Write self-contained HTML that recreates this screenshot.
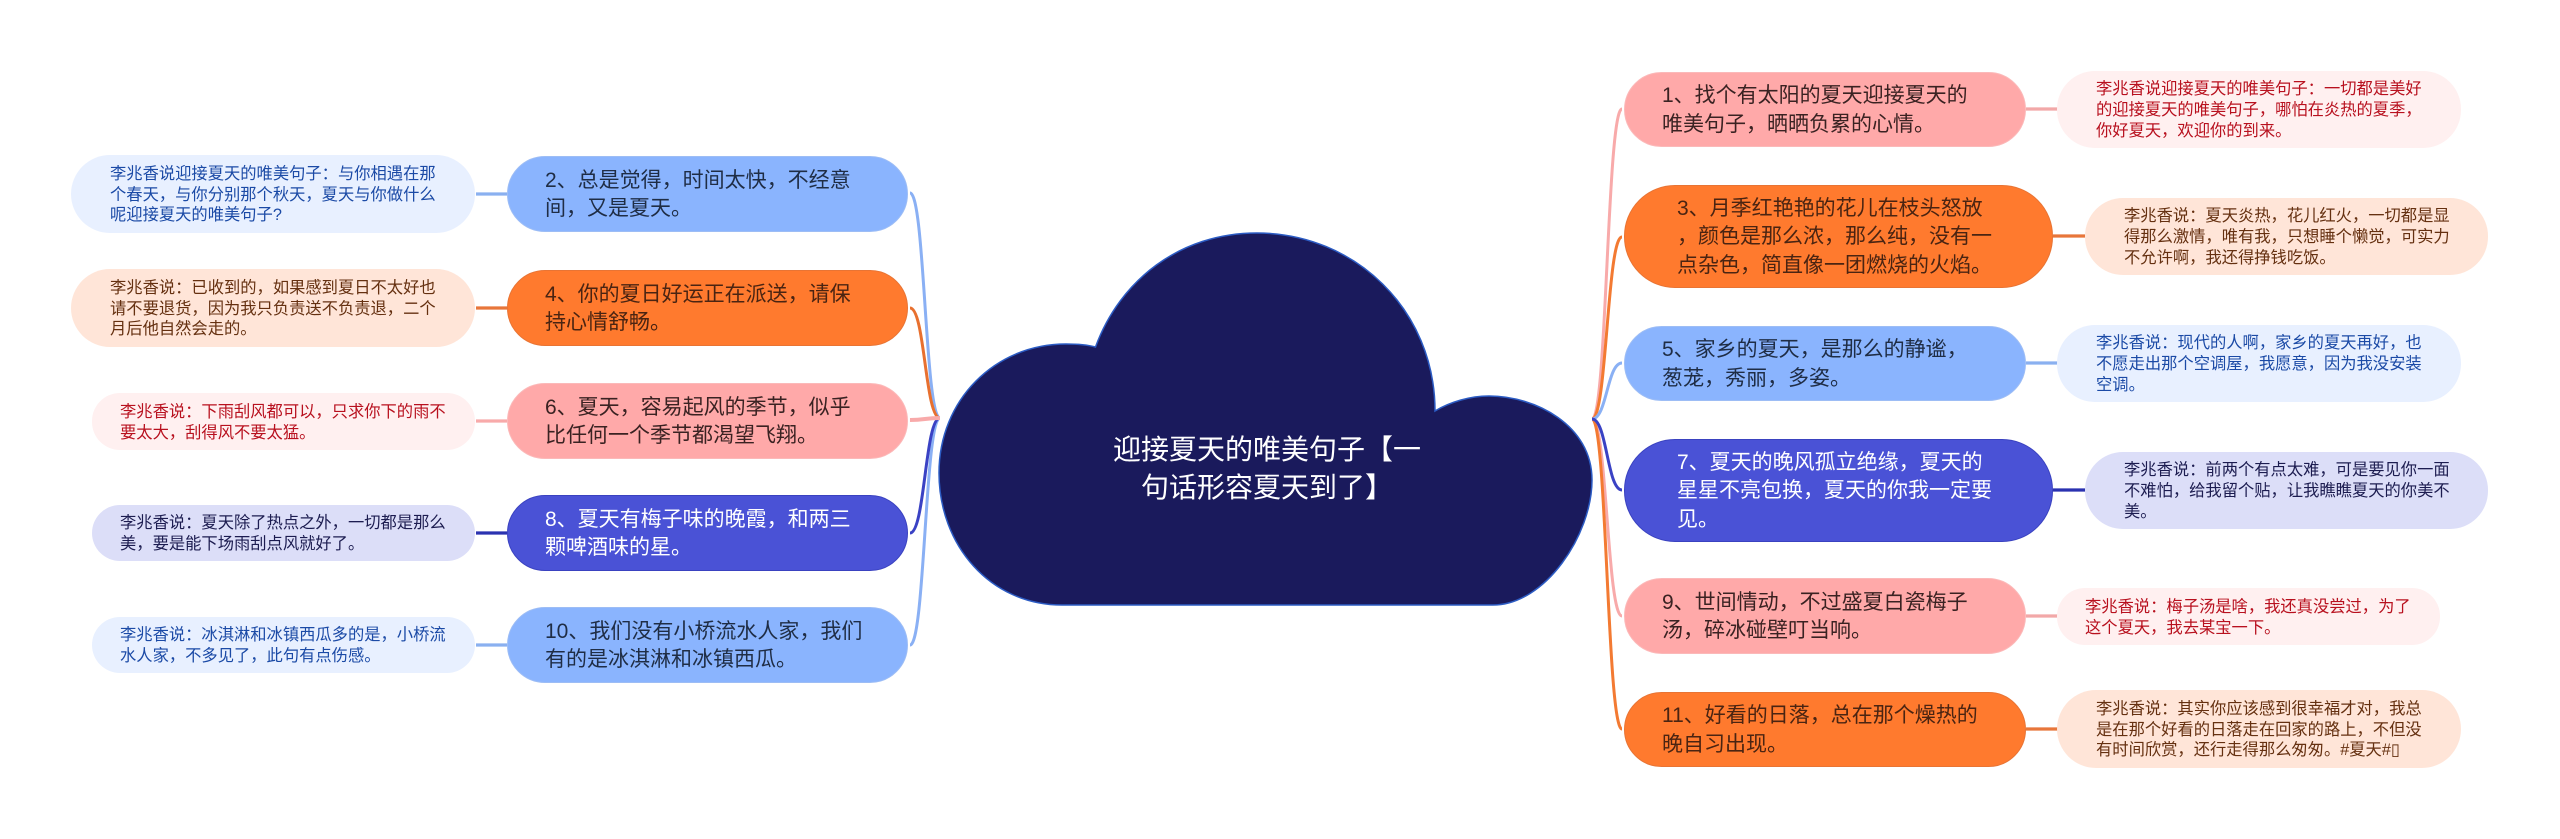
<!DOCTYPE html>
<html lang="zh"><head><meta charset="utf-8"><title>迎接夏天的唯美句子</title>
<style>
html,body{margin:0;padding:0;background:#fff}
#p{position:relative;width:2560px;height:839px;overflow:hidden;background:#fff;font-family:"Liberation Sans","Noto Sans CJK SC",sans-serif}
svg{position:absolute;left:0;top:0}
.b{position:absolute;display:flex;align-items:center;box-sizing:border-box;white-space:nowrap}
.n{font-size:21px;line-height:28.2px;border:1px solid;padding-top:2px}
.l{font-size:16.3px;line-height:20.9px;padding-top:2px}
.pk{background:#ffa9a9;border-color:#fbb9b9;color:#3a2222}
.or{background:#ff7a2e;border-color:#e87434;color:#4a2412}
.bl{background:#8ab4fe;border-color:#9dbdf5;color:#1f2d45}
.in{background:#4a52d6;border-color:#3a42c0;color:#fff}
.lp{background:#fff0f0;color:#b8101e}
.lo{background:#ffe5d8;color:#653010}
.lb{background:#e8f0ff;color:#1b4aa6}
.li{background:#dcdef8;color:#1c1c50}
#c{position:absolute;left:1040px;top:431px;width:454px;text-align:center;font-size:28px;line-height:38px;color:#fff;white-space:nowrap}
</style></head><body><div id="p">
<svg width="2560" height="839" viewBox="0 0 2560 839" fill="none">
<path d="M1062 605C990 605 939 545 939 473C939 400 995 344 1066 344C1078 344 1088 345 1095.500 347C1120 280 1180 233 1257 233C1355 233 1435 310 1435 411C1450 402 1470 396 1489 396C1535 396 1592 425 1592 480C1592 535 1545 605 1493 605Z" fill="#1a1a5c" stroke="#2c5cc4" stroke-width="1.500"/>
<g stroke-width="3">
<path d="M940 418C925 418 925 193 910 193" stroke="#8ab0f4"/>
<path d="M940 418C925 418 925 308 910 308" stroke="#e8702f"/>
<path d="M940 418C925 418 925 645 910 645" stroke="#8ab0f4"/>
<path d="M940 418C925 418 925 533 910 533" stroke="#3a42c4"/>
<path d="M940 418C925 418 925 420 910 420" stroke="#f8aaaa" stroke-width="4"/>
<path d="M1592 419C1607 419 1607 109 1622 109" stroke="#f8aaaa"/>
<path d="M1592 419C1607 419 1607 616 1622 616" stroke="#f8aaaa"/>
<path d="M1592 419C1607 419 1607 237 1622 237" stroke="#f37a32"/>
<path d="M1592 419C1607 419 1607 729 1622 729" stroke="#f37a32"/>
<path d="M1592 419C1607 419 1607 363 1622 363" stroke="#8ab0f4"/>
<path d="M1592 419C1607 419 1607 490 1622 490" stroke="#3a42c4"/>
</g>
<g stroke-width="3.200">
<path d="M476 194H507" stroke="#8ab0f0"/>
<path d="M476 308H507" stroke="#e8763a"/>
<path d="M476 421H507" stroke="#f8aaaa"/>
<path d="M476 533H507" stroke="#2a32b0"/>
<path d="M476 645H507" stroke="#8ab0f0"/>
<path d="M2026 109H2058" stroke="#f2a8a8"/>
<path d="M2053 236H2085" stroke="#e8763a"/>
<path d="M2026 363H2058" stroke="#8ab0f0"/>
<path d="M2053 490H2085" stroke="#2a32b0"/>
<path d="M2026 616H2058" stroke="#f2a8a8"/>
<path d="M2026 729H2058" stroke="#e8763a"/>
</g>
</svg>
<div id="c">迎接夏天的唯美句子【一<br>句话形容夏天到了】</div>

<div class="b n bl" style="left:507px;top:156px;width:401px;height:76px;border-radius:38px;padding-left:37px">2、总是觉得，时间太快，不经意<br>间，又是夏天。</div>
<div class="b n or" style="left:507px;top:270px;width:401px;height:76px;border-radius:38px;padding-left:37px">4、你的夏日好运正在派送，请保<br>持心情舒畅。</div>
<div class="b n pk" style="left:507px;top:383px;width:401px;height:76px;border-radius:38px;padding-left:37px">6、夏天，容易起风的季节，似乎<br>比任何一个季节都渴望飞翔。</div>
<div class="b n in" style="left:507px;top:495px;width:401px;height:76px;border-radius:38px;padding-left:37px">8、夏天有梅子味的晚霞，和两三<br>颗啤酒味的星。</div>
<div class="b n bl" style="left:507px;top:607px;width:401px;height:76px;border-radius:38px;padding-left:37px">10、我们没有小桥流水人家，我们<br>有的是冰淇淋和冰镇西瓜。</div>

<div class="b l lb" style="left:71px;top:155px;width:404px;height:78px;border-radius:39px;padding-left:39px">李兆香说迎接夏天的唯美句子：与你相遇在那<br>个春天，与你分别那个秋天，夏天与你做什么<br>呢迎接夏天的唯美句子?</div>
<div class="b l lo" style="left:71px;top:269px;width:404px;height:78px;border-radius:39px;padding-left:39px">李兆香说：已收到的，如果感到夏日不太好也<br>请不要退货，因为我只负责送不负责退，二个<br>月后他自然会走的。</div>
<div class="b l lp" style="left:92px;top:393px;width:383px;height:57px;border-radius:28px;padding-left:28px">李兆香说：下雨刮风都可以，只求你下的雨不<br>要太大，刮得风不要太猛。</div>
<div class="b l li" style="left:92px;top:505px;width:383px;height:56px;border-radius:28px;padding-left:28px">李兆香说：夏天除了热点之外，一切都是那么<br>美，要是能下场雨刮点风就好了。</div>
<div class="b l lb" style="left:92px;top:617px;width:383px;height:56px;border-radius:28px;padding-left:28px">李兆香说：冰淇淋和冰镇西瓜多的是，小桥流<br>水人家，不多见了，此句有点伤感。</div>

<div class="b n pk" style="left:1624px;top:72px;width:402px;height:75px;border-radius:38px;padding-left:37px">1、找个有太阳的夏天迎接夏天的<br>唯美句子，晒晒负累的心情。</div>
<div class="b n or" style="left:1624px;top:185px;width:429px;height:103px;border-radius:51px;padding-left:52px">3、月季红艳艳的花儿在枝头怒放<br>，颜色是那么浓，那么纯，没有一<br>点杂色，简直像一团燃烧的火焰。</div>
<div class="b n bl" style="left:1624px;top:326px;width:402px;height:75px;border-radius:38px;padding-left:37px">5、家乡的夏天，是那么的静谧，<br>葱茏，秀丽，多姿。</div>
<div class="b n in" style="left:1624px;top:439px;width:429px;height:103px;border-radius:51px;padding-left:52px">7、夏天的晚风孤立绝缘，夏天的<br>星星不亮包换，夏天的你我一定要<br>见。</div>
<div class="b n pk" style="left:1624px;top:578px;width:402px;height:76px;border-radius:38px;padding-left:37px">9、世间情动，不过盛夏白瓷梅子<br>汤，碎冰碰壁叮当响。</div>
<div class="b n or" style="left:1624px;top:692px;width:402px;height:75px;border-radius:38px;padding-left:37px">11、好看的日落，总在那个燥热的<br>晚自习出现。</div>

<div class="b l lp" style="left:2057px;top:71px;width:404px;height:77px;border-radius:38px;padding-left:39px">李兆香说迎接夏天的唯美句子：一切都是美好<br>的迎接夏天的唯美句子，哪怕在炎热的夏季，<br>你好夏天，欢迎你的到来。</div>
<div class="b l lo" style="left:2085px;top:198px;width:403px;height:77px;border-radius:38px;padding-left:39px">李兆香说：夏天炎热，花儿红火，一切都是显<br>得那么激情，唯有我，只想睡个懒觉，可实力<br>不允许啊，我还得挣钱吃饭。</div>
<div class="b l lb" style="left:2057px;top:325px;width:404px;height:77px;border-radius:38px;padding-left:39px">李兆香说：现代的人啊，家乡的夏天再好，也<br>不愿走出那个空调屋，我愿意，因为我没安装<br>空调。</div>
<div class="b l li" style="left:2085px;top:452px;width:403px;height:77px;border-radius:38px;padding-left:39px">李兆香说：前两个有点太难，可是要见你一面<br>不难怕，给我留个贴，让我瞧瞧夏天的你美不<br>美。</div>
<div class="b l lp" style="left:2057px;top:588px;width:383px;height:57px;border-radius:28px;padding-left:28px">李兆香说：梅子汤是啥，我还真没尝过，为了<br>这个夏天，我去某宝一下。</div>
<div class="b l lo" style="left:2057px;top:690px;width:404px;height:78px;border-radius:39px;padding-left:39px">李兆香说：其实你应该感到很幸福才对，我总<br>是在那个好看的日落走在回家的路上，不但没<br>有时间欣赏，还行走得那么匆匆。#夏天#▯</div>
</div></body></html>
